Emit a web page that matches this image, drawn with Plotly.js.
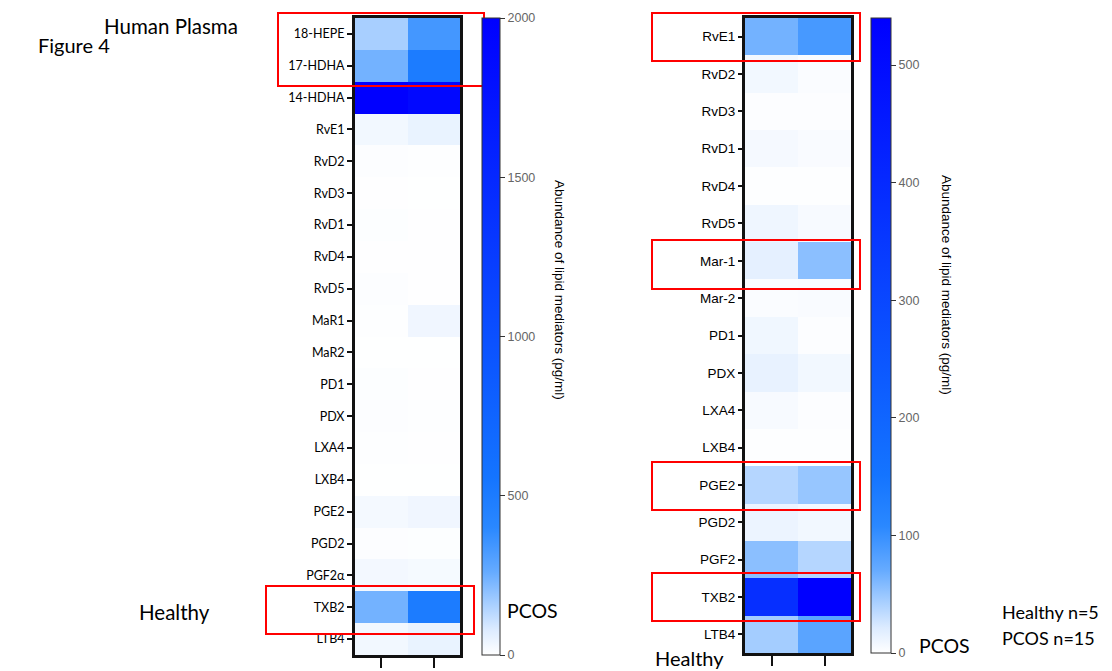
<!DOCTYPE html>
<html>
<head>
<meta charset="utf-8">
<script src="https://cdn.plot.ly/plotly-3.0.1.min.js"></script>
<style>html,body{margin:0;padding:0;background:#fff;}#chart{width:1112px;height:671px;}</style>
</head>
<body>
<div id="chart"></div>
<script>
// ---- data ----
var groups = ['Healthy', 'PCOS'];

var plasmaMediators = ['18-HEPE','17-HDHA','14-HDHA','RvE1','RvD2','RvD3','RvD1','RvD4','RvD5','MaR1','MaR2','PD1','PDX','LXA4','LXB4','PGE2','PGD2','PGF2α','TXB2','LTB4'];
var plasmaHealthy = [160, 240, 2000, 30, 8, 3, 6, 3, 8, 5, 2, 6, 8, 5, 2, 25, 8, 28, 240, 30];
var plasmaPCOS    = [340, 500, 1900, 50, 4, 2, 3, 3, 3, 35, 2, 3, 5, 3, 2, 35, 6, 22, 500, 50];
var plasmaTicks = [0, 500, 1000, 1500, 2000];

var rightMediators = ['RvE1','RvD2','RvD3','RvD1','RvD4','RvD5','Mar-1','Mar-2','PD1','PDX','LXA4','LXB4','PGE2','PGD2','PGF2','TXB2','LTB4'];
var rightHealthy = [65, 8, 2, 6, 1, 10, 16, 3, 9, 14, 5, 1, 38, 12, 55, 380, 45];
var rightPCOS    = [90, 3, 2, 4, 1, 5, 55, 4, 2, 8, 2, 1, 50, 8, 38, 540, 78];
var rightTicks = [0, 100, 200, 300, 400, 500];

// ---- build ----
function zRows(a, b) { return a.map(function (v, i) { return [v, b[i]]; }); }

var cs = [
  [0, '#ffffff'], [0.04, '#dcebff'], [0.08, '#a8cfff'], [0.13, '#66abff'],
  [0.2, '#2a88ff'], [0.28, '#1474ff'], [0.45, '#0c58ff'], [0.7, '#0630ff'], [1, '#0000ff']
];

var W = 1112, H = 671;
function px(x) { return x / W; }
function py(y) { return 1 - y / H; }

var cbFont = {family: 'Liberation Sans, Arial, sans-serif', size: 12.5, color: '#666'};

var traces = [
  {
    type: 'heatmap', x: groups, y: plasmaMediators, z: zRows(plasmaHealthy, plasmaPCOS),
    xaxis: 'x', yaxis: 'y', colorscale: cs, zmin: 0, zmax: 2000,
    colorbar: {
      x: px(482), xanchor: 'left', xpad: 0, ypad: 0, y: py(336.5), yanchor: 'middle',
      len: 637 / H, lenmode: 'fraction', thickness: 18, thicknessmode: 'pixels',
      outlinewidth: 1, outlinecolor: '#333', tickvals: plasmaTicks, ticks: 'outside', ticklen: 5,
      tickcolor: '#333', tickfont: cbFont
    }
  },
  {
    type: 'heatmap', x: groups, y: rightMediators, z: zRows(rightHealthy, rightPCOS),
    xaxis: 'x2', yaxis: 'y2', colorscale: cs, zmin: 0, zmax: 540,
    colorbar: {
      x: px(871), xanchor: 'left', xpad: 0, ypad: 0, y: py(335.5), yanchor: 'middle',
      len: 635 / H, lenmode: 'fraction', thickness: 20, thicknessmode: 'pixels',
      outlinewidth: 1, outlinecolor: '#333', tickvals: rightTicks, ticks: 'outside', ticklen: 5,
      tickcolor: '#333', tickfont: cbFont
    }
  }
];

var axBase = {showgrid: false, zeroline: false, showline: true, mirror: true, linewidth: 3, linecolor: '#111',
  ticks: 'outside', tickwidth: 2, tickcolor: '#111'};

function redBox(x0, y0, x1, y1) {
  return {type: 'rect', xref: 'paper', yref: 'paper', x0: px(x0), x1: px(x1), y0: py(y0), y1: py(y1),
    line: {color: '#ff0000', width: 2}, fillcolor: 'rgba(0,0,0,0)', layer: 'above'};
}

function txt(text, x, y, size, fam, extra) {
  var a = {text: text, xref: 'paper', yref: 'paper', x: px(x), y: py(y), xanchor: 'left', yanchor: 'middle',
    showarrow: false, font: {family: fam, size: size, color: '#000'}};
  if (extra) for (var k in extra) a[k] = extra[k];
  return a;
}
var cal = 'Lato, Open Sans, sans-serif';
var ari = 'Liberation Sans, Arial, sans-serif';

var layout = {
  width: W, height: H, margin: {l: 0, r: 0, t: 0, b: 0}, paper_bgcolor: '#fff', plot_bgcolor: '#fff',
  showlegend: false,
  xaxis: Object.assign({}, axBase, {domain: [px(355), px(460)], showticklabels: false, ticklen: 10, anchor: 'y'}),
  yaxis: Object.assign({}, axBase, {domain: [py(655), py(18)], autorange: 'reversed', ticklen: 5, anchor: 'x',
    tickfont: {family: cal, size: 12.5, color: '#000'}, ticklabelstandoff: 0}),
  xaxis2: Object.assign({}, axBase, {domain: [px(745), px(851)], showticklabels: false, ticklen: 10, anchor: 'y2'}),
  yaxis2: Object.assign({}, axBase, {domain: [py(653), py(18)], autorange: 'reversed', ticklen: 4, anchor: 'x2',
    tickfont: {family: ari, size: 13.5, color: '#000'}, ticklabelstandoff: 0}),
  shapes: [
    redBox(278, 13, 484, 86), redBox(266, 586, 474, 634),
    redBox(652, 13, 860, 61), redBox(652, 240, 860, 289),
    redBox(652, 462, 860, 510), redBox(652, 573, 860, 621)
  ],
  annotations: [
    txt('Figure 4', 36, 45, 20, cal),
    txt('Human Plasma', 102, 26, 20.5, cal),
    txt('Healthy', 137, 612, 20.5, cal),
    txt('PCOS', 505, 610, 19.5, cal),
    txt('Healthy', 653, 658, 20, cal),
    txt('PCOS', 917, 645, 19.5, cal),
    txt('Healthy n=5', 1000, 612, 18, cal),
    txt('PCOS n=15', 1000, 638, 18, cal),
    txt('Abundance of lipid mediators (pg/ml)', 560, 290, 13.5, ari, {xanchor: 'center', textangle: 90}),
    txt('Abundance of lipid mediators (pg/ml)', 946, 285, 13.5, ari, {xanchor: 'center', textangle: 90})
  ]
};

Plotly.newPlot('chart', traces, layout, {staticPlot: true, displayModeBar: false});
</script>
</body>
</html>
